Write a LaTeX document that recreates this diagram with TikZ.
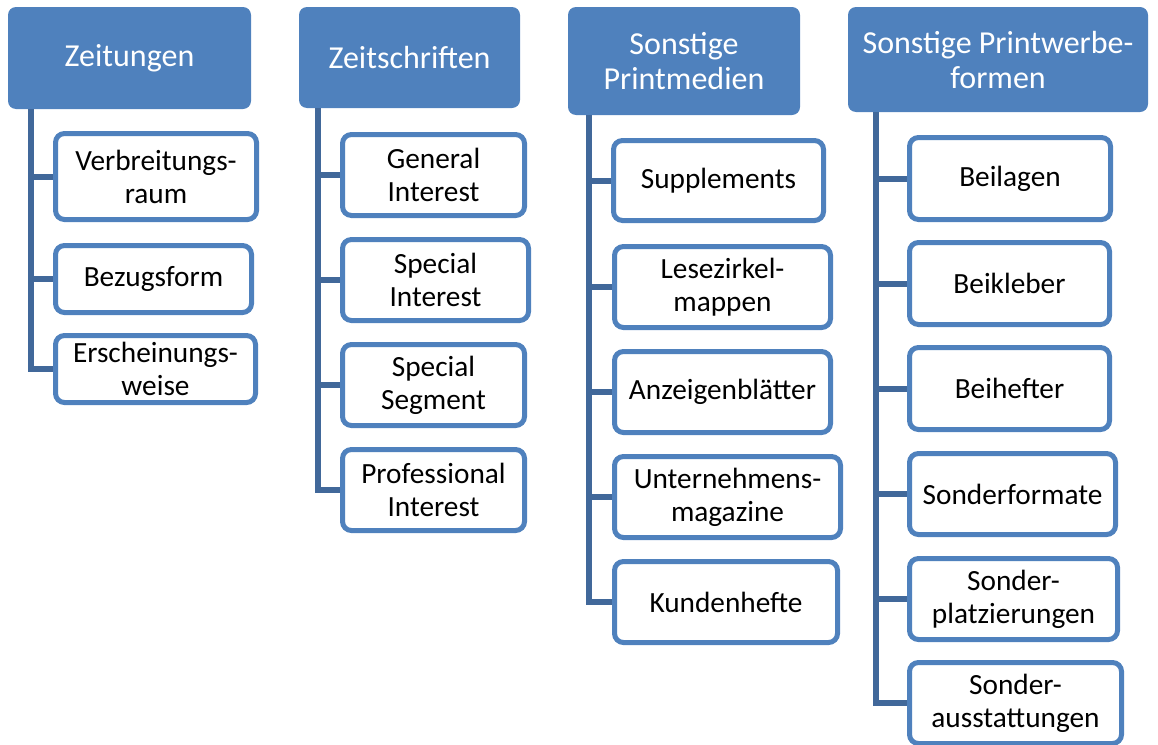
\documentclass[tikz,border=0pt]{standalone}
\usepackage{fontspec}
\setmainfont{Carlito}
\definecolor{headblue}{HTML}{4F81BD}
\definecolor{stemblue}{HTML}{41689A}
\tikzset{
	head/.style={fill=headblue, text=white, rounded corners=8pt, inner sep=0pt, align=center, font=\fontsize{32}{35}\selectfont},
	leaf/.style={draw=headblue, line width=5pt, fill=white, rounded corners=9pt, inner sep=0pt, align=center, font=\fontsize{29.3}{33}\selectfont},
	stem/.style={draw=stemblue, line width=6pt}
}
\begin{document}
\begin{tikzpicture}[x=1pt, y=-1pt]
	\useasboundingbox (0,0) rectangle (1158,744);
	\clip (0,0) rectangle (1158,744);
	% column 1
	\node[head, minimum width=243pt, minimum height=102pt] (t1) at (129.5,58) {Zeitungen};
	\node[leaf, minimum width=201pt, minimum height=86pt] (c11) at (156,176.5) {Verbreitungs-\\raum};
	\node[leaf, minimum width=196pt, minimum height=67pt] (c12) at (153.5,279) {Bezugsform};
	\node[leaf, minimum width=200pt, minimum height=67pt] (c13) at (155.5,369) {Erscheinungs-\\weise};
	% column 2
	\node[head, minimum width=221pt, minimum height=101pt] (t2) at (409.5,57.5) {Zeitschriften};
	\node[leaf, minimum width=182pt, minimum height=81pt] (c21) at (433.5,175) {General\\Interest};
	\node[leaf, minimum width=186pt, minimum height=81pt] (c22) at (435.5,280) {Special\\Interest};
	\node[leaf, minimum width=182pt, minimum height=81pt] (c23) at (433.5,385) {Special\\Segment};
	\node[leaf, minimum width=182pt, minimum height=81pt] (c24) at (433.5,490) {Professional\\Interest};
	% column 3
	\node[head, minimum width=232pt, minimum height=108pt] (t3) at (684,61) {Sonstige\\Printmedien};
	\node[leaf, minimum width=210pt, minimum height=80pt] (c31) at (718.5,180.5) {Supplements};
	\node[leaf, minimum width=216pt, minimum height=81pt] (c32) at (722.5,287) {Lesezirkel-\\mappen};
	\node[leaf, minimum width=216pt, minimum height=81pt] (c33) at (722.5,392) {Anzeigenblätter};
	\node[leaf, minimum width=226pt, minimum height=81pt] (c34) at (727.5,497) {Unternehmens-\\magazine};
	\node[leaf, minimum width=223pt, minimum height=81pt] (c35) at (726,602) {Kundenhefte};
	% column 4
	\node[head, minimum width=300pt, minimum height=105pt] (t4) at (998,59.5) {Sonstige Printwerbe-\\formen};
	\node[leaf, minimum width=201pt, minimum height=82pt] (c41) at (1010,178.5) {Beilagen};
	\node[leaf, minimum width=200pt, minimum height=82pt] (c42) at (1009.5,283.5) {Beikleber};
	\node[leaf, minimum width=200pt, minimum height=82pt] (c43) at (1009.5,388.5) {Beihefter};
	\node[leaf, minimum width=206pt, minimum height=81pt] (c44) at (1012.5,494) {Sonderformate};
	\node[leaf, minimum width=208pt, minimum height=81pt] (c45) at (1013.5,599) {Sonder-\\platzierungen};
	\node[leaf, minimum width=212pt, minimum height=81pt] (c46) at (1015.5,703) {Sonder-\\ausstattungen};
	% stems
	\coordinate (s1) at (31,109);
	\coordinate (s2) at (318,108);
	\coordinate (s3) at (589,115);
	\coordinate (s4) at (876,112);
	\draw[stem] (s1) |- (c13.west);
	\draw[stem] (s2) |- (c24.west);
	\draw[stem] (s3) |- (c35.west);
	\draw[stem] (s4) |- (c46.west);
	\foreach \c in {c11,c12}{\draw[stem] (s1 |- \c.west) -- (\c.west);};
	\foreach \c in {c21,c22,c23}{\draw[stem] (s2 |- \c.west) -- (\c.west);};
	\foreach \c in {c31,c32,c33,c34}{\draw[stem] (s3 |- \c.west) -- (\c.west);};
	\foreach \c in {c41,c42,c43,c44,c45}{\draw[stem] (s4 |- \c.west) -- (\c.west);};
\end{tikzpicture}
\end{document}
